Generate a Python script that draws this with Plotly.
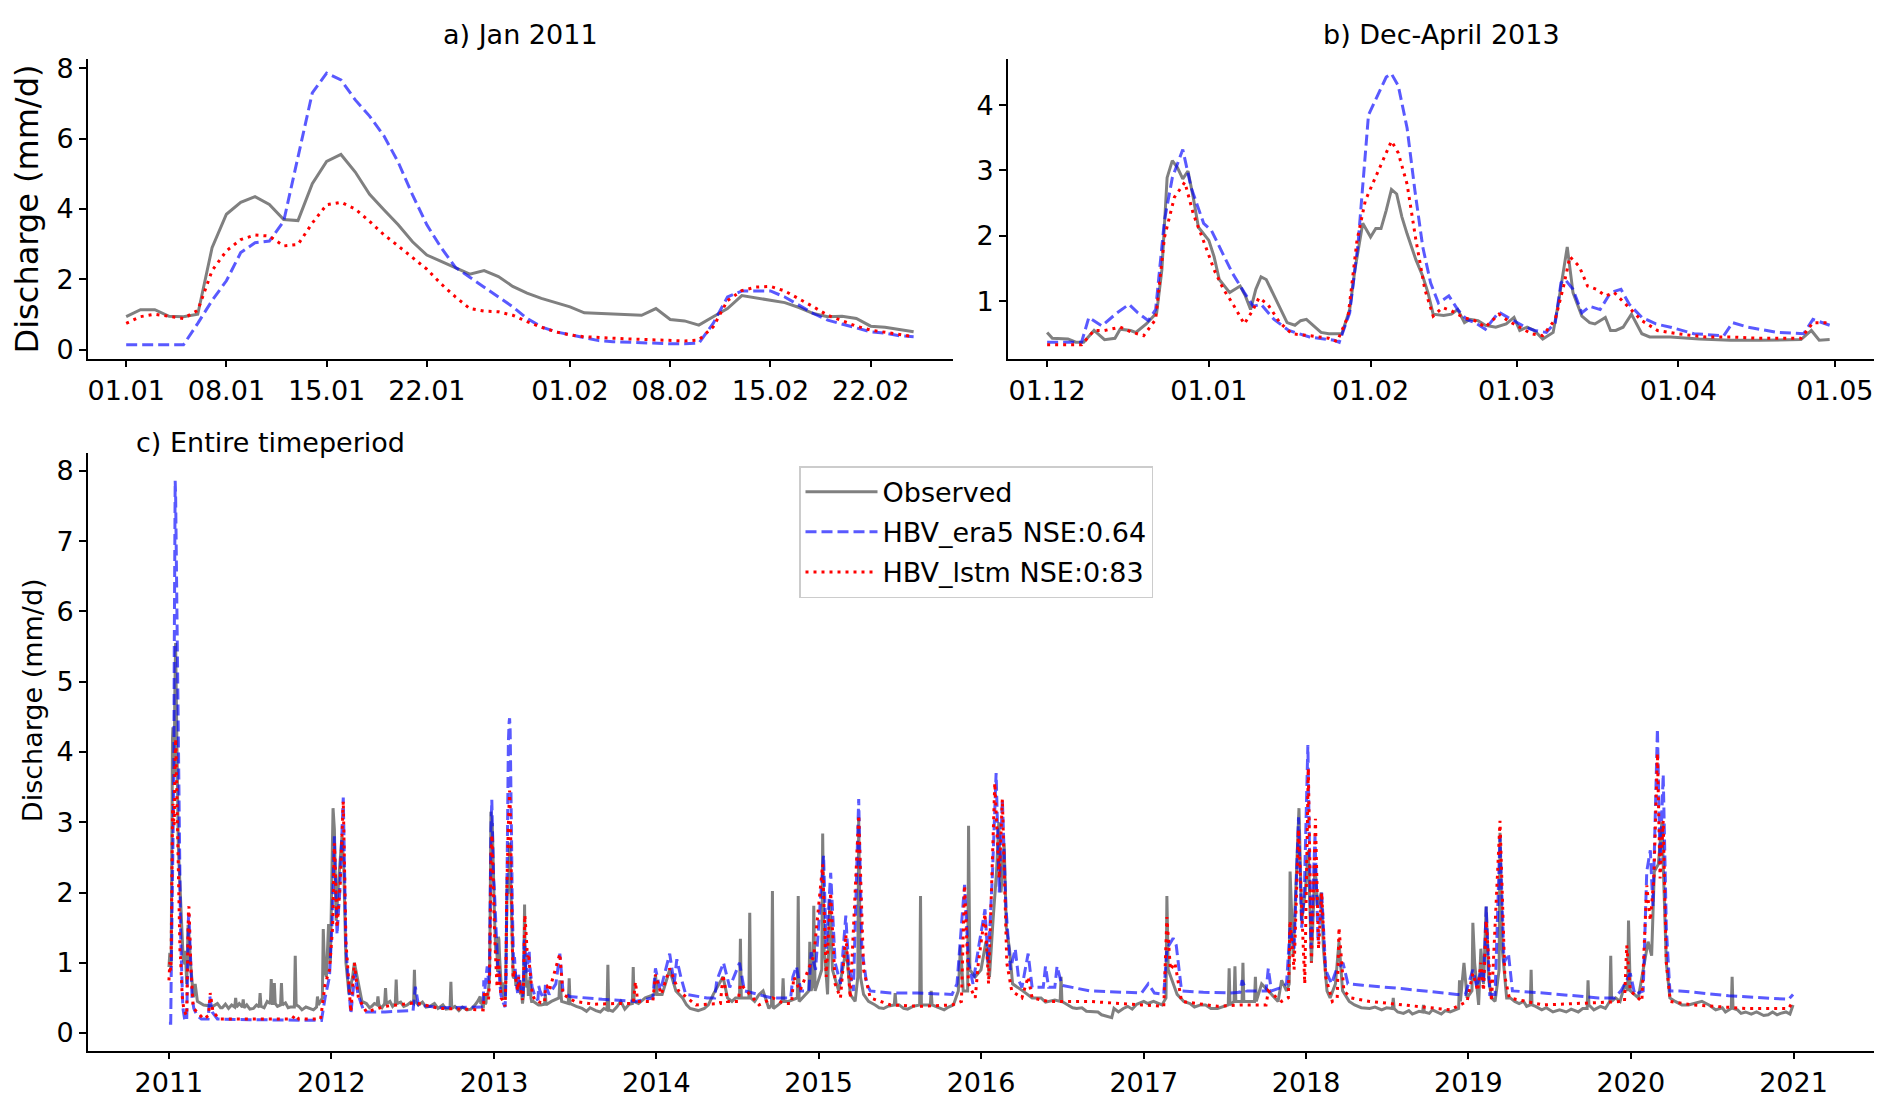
import pandas as pd
import plotly.graph_objects as go

# ---- panel a: daily values 01.01.2011 - 25.02.2011 ----
a_start = "2011-01-01"
obs_a = [0.94, 1.14, 1.14, 0.95, 0.94, 1.01, 2.9, 3.85, 4.19, 4.35,
         4.13, 3.7, 3.67, 4.72, 5.35, 5.55, 5.05, 4.42, 3.98, 3.55,
         3.07, 2.69, 2.51, 2.34, 2.15, 2.25, 2.08, 1.8, 1.61, 1.46,
         1.33, 1.22, 1.05, 1.03, 1.02, 1.0, 0.98, 1.17, 0.86, 0.82,
         0.7, 0.94, 1.17, 1.54, 1.48, 1.4, 1.34, 1.2, 1.03, 0.94,
         0.95, 0.89, 0.67, 0.64, 0.58, 0.51]
era5_a = [0.14, 0.14, 0.14, 0.14, 0.14, 0.75, 1.4, 1.96, 2.76, 3.04,
          3.09, 3.65, 5.5, 7.3, 7.86, 7.67, 7.1, 6.64, 6.08, 5.33,
          4.4, 3.55, 2.9, 2.34, 2.06, 1.78, 1.5, 1.22, 0.89, 0.65,
          0.51, 0.42, 0.33, 0.26, 0.23, 0.21, 0.19, 0.19, 0.17, 0.17,
          0.19, 0.75, 1.5, 1.67, 1.68, 1.67, 1.5, 1.26, 1.03, 0.84,
          0.73, 0.61, 0.51, 0.47, 0.4, 0.37]
lstm_a = [0.75, 0.94, 1.01, 0.94, 0.89, 1.12, 2.25, 2.81, 3.13, 3.26,
          3.23, 2.95, 2.99, 3.6, 4.12, 4.19, 4.0, 3.65, 3.27, 2.95,
          2.62, 2.29, 1.87, 1.5, 1.17, 1.1, 1.08, 0.98, 0.8, 0.64,
          0.51, 0.42, 0.37, 0.36, 0.33, 0.31, 0.3, 0.28, 0.26, 0.25,
          0.28, 0.65, 1.4, 1.68, 1.78, 1.8, 1.67, 1.45, 1.22, 0.98,
          0.82, 0.67, 0.56, 0.49, 0.42, 0.37]

# ---- panel b: days after 01.12.2012 ----
b_start = "2012-12-01"
obs_b_days = [0, 1, 4, 5.5, 7, 9, 11, 13, 14, 16,
              17, 19, 21, 22, 23, 24, 25, 26, 27, 28,
              29, 31, 32, 33, 35, 36, 37, 38, 39, 40,
              41, 42, 43.5, 44.6, 46, 47.5, 48.6, 49.7, 51, 52.5,
              54, 56.5, 58, 59, 60.5, 62, 63, 64, 65, 66,
              67, 68, 69, 70.7, 72, 73, 74, 76, 77.5, 78.7,
              80, 81, 82.6, 84, 86, 88, 89.5, 90.6, 92, 93.4,
              95, 97, 98, 99.7, 100.8, 102.5, 104, 105, 107, 108,
              109, 110.4, 112, 114, 115.5, 119.5, 125, 131, 136.5, 144.5,
              146.5, 148, 150]
obs_b = [0.52, 0.43, 0.42, 0.37, 0.37, 0.55, 0.41, 0.43, 0.57, 0.55,
         0.52, 0.65, 0.82, 1.48, 2.89, 3.15, 3.04, 2.87, 2.99, 2.59,
         2.13, 1.93, 1.68, 1.33, 1.13, 1.18, 1.23, 1.08, 0.87, 1.18,
         1.37, 1.33, 1.08, 0.92, 0.67, 0.63, 0.7, 0.72, 0.62, 0.52,
         0.5, 0.5, 0.87, 1.48, 2.19, 1.98, 2.11, 2.11, 2.39, 2.71,
         2.64, 2.29, 2.03, 1.63, 1.38, 1.13, 0.8, 0.78, 0.8, 0.87,
         0.67, 0.72, 0.7, 0.63, 0.6, 0.65, 0.75, 0.55, 0.6, 0.55,
         0.42, 0.52, 0.97, 1.83, 1.13, 0.77, 0.67, 0.65, 0.75, 0.55,
         0.55, 0.6, 0.8, 0.5, 0.45, 0.45, 0.42, 0.4, 0.4, 0.41,
         0.55, 0.4, 0.41]
era5_b_days = [0, 6.6, 8, 10.5, 13.4, 15.7, 17.4, 19.4, 20.8, 22.5,
               24, 26, 27.6, 30, 31.5, 33, 35.5, 37.8, 39.5, 41,
               43.5, 46.3, 50.3, 55, 56, 58, 59.6, 61.6, 63.3, 65,
               66, 67.3, 69, 70.5, 72, 73.5, 75, 77, 78.7, 80.4,
               82, 84, 85, 86.6, 88.3, 90, 91.7, 93.4, 95.7, 97.4,
               98.5, 99.3, 100.8, 102.5, 104, 106, 108, 110, 111.6, 114,
               116.7, 119.5, 124, 129.7, 131.4, 134.3, 140, 145, 146.8, 150]
era5_b = [0.37, 0.37, 0.75, 0.62, 0.82, 0.95, 0.82, 0.7, 0.87, 2.24,
          2.89, 3.32, 2.74, 2.19, 2.08, 1.83, 1.43, 1.13, 0.92, 0.95,
          0.72, 0.55, 0.45, 0.4, 0.37, 0.82, 1.88, 3.85, 4.15, 4.43,
          4.48, 4.3, 3.65, 2.69, 1.83, 1.28, 0.97, 1.08, 0.87, 0.72,
          0.67, 0.57, 0.67, 0.83, 0.75, 0.67, 0.6, 0.55, 0.52, 0.67,
          1.28, 1.33, 1.18, 0.82, 0.92, 0.87, 1.13, 1.18, 0.95, 0.75,
          0.65, 0.6, 0.5, 0.47, 0.67, 0.6, 0.52, 0.5, 0.72, 0.63]
lstm_b_days = [0, 6.6, 9, 11, 14, 16, 18.5, 20.8, 22.5, 24.4,
               26.4, 28, 30.4, 32, 33.8, 35.5, 37.8, 39.5, 40.6, 42.3,
               44.6, 46.9, 50.3, 54, 55.6, 57.7, 59.4, 61, 62.8, 64.5,
               66, 67.3, 69, 70.7, 72.4, 74, 75.8, 77.5, 79.8, 82,
               84, 86.6, 88.3, 90.6, 92.8, 95, 97.4, 99, 100.2, 102,
               103.6, 105.3, 107, 108.7, 111, 114, 117, 120.7, 126.3, 131,
               136.5, 144.5, 146.8, 150]
lstm_b = [0.33, 0.33, 0.55, 0.55, 0.6, 0.53, 0.47, 0.72, 1.98, 2.59,
          2.82, 2.34, 1.83, 1.48, 1.18, 0.97, 0.65, 0.87, 1.05, 0.95,
          0.67, 0.5, 0.47, 0.43, 0.38, 0.77, 1.93, 2.54, 2.87, 3.19,
          3.45, 3.27, 2.79, 1.93, 1.18, 0.77, 0.9, 0.85, 0.75, 0.7,
          0.6, 0.8, 0.7, 0.6, 0.5, 0.47, 0.72, 1.23, 1.68, 1.53,
          1.23, 1.18, 1.08, 1.13, 0.95, 0.7, 0.55, 0.5, 0.45, 0.45,
          0.43, 0.43, 0.67, 0.67]

# ---- panel c: remaining points (outside the periods of a and b) ----
obs_c_dates = [
    "2011-03-01", "2011-03-06", "2011-03-20", "2011-04-10", "2011-05-01", "2011-05-29", "2011-05-31", "2011-06-02",
    "2011-06-15", "2011-06-17", "2011-06-19", "2011-07-10", "2011-07-23", "2011-07-25", "2011-07-27", "2011-08-10",
    "2011-08-17", "2011-08-19", "2011-08-21", "2011-08-24", "2011-08-26", "2011-08-28", "2011-09-09", "2011-09-11",
    "2011-09-13", "2011-10-01", "2011-10-10", "2011-10-12", "2011-10-14", "2011-11-15", "2011-11-29", "2011-12-01",
    "2011-12-03", "2011-12-12", "2011-12-14", "2011-12-17", "2011-12-21", "2011-12-26", "2011-12-30", "2012-01-05",
    "2012-01-08", "2012-01-12", "2012-01-18", "2012-01-25", "2012-01-29", "2012-02-03", "2012-02-10", "2012-02-18",
    "2012-02-22", "2012-03-01", "2012-03-10", "2012-04-01", "2012-04-13", "2012-04-15", "2012-04-17", "2012-04-30",
    "2012-05-02", "2012-05-04", "2012-05-24", "2012-05-26", "2012-05-28", "2012-06-20", "2012-07-04", "2012-07-06",
    "2012-07-08", "2012-08-10", "2012-09-24", "2012-09-26", "2012-09-28", "2012-11-01", "2012-11-25",
    "2013-05-10", "2013-05-27", "2013-05-29", "2013-06-02", "2013-06-17", "2013-06-19", "2013-06-21", "2013-07-18",
    "2013-08-18", "2013-09-12", "2013-09-14", "2013-09-16", "2013-10-13", "2013-11-08", "2013-11-10", "2013-11-12",
    "2013-12-07", "2013-12-28", "2013-12-30", "2014-01-03", "2014-01-14", "2014-01-31", "2014-02-14", "2014-03-01",
    "2014-03-31", "2014-04-19", "2014-05-09", "2014-05-31", "2014-06-10", "2014-07-07", "2014-07-09", "2014-07-11",
    "2014-07-28", "2014-07-30", "2014-08-01", "2014-08-29", "2014-09-11", "2014-09-17", "2014-09-19", "2014-09-21",
    "2014-10-11", "2014-10-13", "2014-10-15", "2014-10-25", "2014-11-14", "2014-11-16", "2014-11-18", "2014-12-10",
    "2014-12-12", "2014-12-15", "2014-12-19", "2014-12-21", "2014-12-24", "2015-01-08", "2015-01-10", "2015-01-13",
    "2015-01-16", "2015-01-21", "2015-01-26", "2015-02-01", "2015-02-15", "2015-03-04", "2015-03-13", "2015-03-24",
    "2015-03-30", "2015-04-01", "2015-04-05", "2015-04-12", "2015-04-23", "2015-05-27", "2015-06-20", "2015-06-22",
    "2015-06-24", "2015-07-11", "2015-08-16", "2015-08-18", "2015-08-20", "2015-09-09", "2015-09-11", "2015-09-13",
    "2015-10-01", "2015-10-31", "2015-11-11", "2015-11-16", "2015-11-22", "2015-12-02", "2015-12-04", "2015-12-07",
    "2015-12-19", "2016-01-01", "2016-01-12", "2016-01-20", "2016-01-28", "2016-02-05", "2016-02-10", "2016-02-15",
    "2016-02-22", "2016-02-27", "2016-03-05", "2016-03-12", "2016-04-04", "2016-05-04", "2016-06-03", "2016-06-27",
    "2016-06-29", "2016-07-01", "2016-08-03", "2016-09-10", "2016-10-03", "2016-10-21", "2016-10-26", "2016-11-16",
    "2017-01-01", "2017-01-23", "2017-02-11", "2017-02-20", "2017-02-22", "2017-02-25", "2017-03-09", "2017-03-17",
    "2017-04-01", "2017-05-09", "2017-06-16", "2017-07-10", "2017-07-12", "2017-07-14", "2017-07-23", "2017-07-25",
    "2017-07-27", "2017-08-10", "2017-08-12", "2017-08-14", "2017-09-07", "2017-09-09", "2017-09-11", "2017-09-23",
    "2017-10-08", "2017-10-23", "2017-11-07", "2017-11-18", "2017-11-24", "2017-11-26", "2017-12-03", "2017-12-09",
    "2017-12-16", "2017-12-22", "2017-12-30", "2018-01-06", "2018-01-13", "2018-01-21", "2018-01-27", "2018-02-04",
    "2018-02-09", "2018-02-17", "2018-02-24", "2018-03-08", "2018-03-16", "2018-03-24", "2018-04-08", "2018-05-24",
    "2018-07-14", "2018-07-16", "2018-07-18", "2018-08-08", "2018-09-07", "2018-09-20", "2018-09-22", "2018-09-24",
    "2018-10-22", "2018-11-21", "2018-12-10", "2018-12-12", "2018-12-14", "2018-12-22", "2018-12-29", "2019-01-09",
    "2019-01-11", "2019-01-15", "2019-01-24", "2019-01-29", "2019-02-04", "2019-02-10", "2019-02-15", "2019-02-22",
    "2019-03-02", "2019-03-11", "2019-03-13", "2019-03-18", "2019-03-28", "2019-04-15", "2019-05-20", "2019-05-22",
    "2019-05-24", "2019-07-10", "2019-08-09", "2019-09-25", "2019-09-27", "2019-09-29", "2019-11-15", "2019-11-17",
    "2019-11-19", "2019-12-19", "2019-12-25", "2019-12-27", "2019-12-31", "2020-01-18", "2020-01-29", "2020-02-09",
    "2020-02-17", "2020-02-23", "2020-03-03", "2020-03-11", "2020-03-21", "2020-03-29", "2020-05-10", "2020-06-09",
    "2020-08-14", "2020-08-16", "2020-08-18", "2020-09-15", "2020-10-26", "2020-12-03", "2020-12-31"]
obs_c = [
    0.7, 0.45, 0.4, 0.38, 0.36, 0.37, 0.5, 0.37,
    0.37, 0.48, 0.36, 0.35, 0.37, 0.57, 0.38, 0.45,
    0.42, 0.77, 0.42, 0.42, 0.71, 0.42, 0.4, 0.71,
    0.4, 0.37, 0.37, 1.1, 0.4, 0.35, 0.37, 0.52,
    0.4, 0.5, 1.48, 0.9, 0.8, 1.55, 1.0, 3.2,
    2.9, 1.6, 2.2, 2.8, 2.4, 1.0, 0.55, 0.8,
    1.0, 0.75, 0.45, 0.38, 0.4, 0.52, 0.4, 0.42,
    0.64, 0.42, 0.42, 0.76, 0.42, 0.4, 0.42, 0.9,
    0.45, 0.38, 0.35, 0.73, 0.35, 0.33, 0.45,
    0.45, 0.5, 0.75, 0.45, 0.42, 0.78, 0.42, 0.35,
    0.32, 0.33, 0.97, 0.33, 0.45, 0.42, 0.94, 0.45,
    0.5, 0.55, 0.83, 0.55, 0.55, 0.9, 0.6, 0.5,
    0.33, 0.35, 0.55, 0.8, 0.5, 0.5, 1.34, 0.5,
    0.5, 1.71, 0.5, 0.6, 0.35, 0.4, 2.02, 0.35,
    0.45, 0.78, 0.45, 0.45, 0.5, 1.95, 0.45, 0.6,
    1.3, 0.6, 0.7, 1.81, 0.6, 0.9, 2.84, 1.2,
    1.0, 0.55, 1.9, 0.9, 0.6, 1.2, 0.55, 0.45,
    0.8, 3.07, 0.8, 0.55, 0.45, 0.35, 0.4, 0.57,
    0.4, 0.35, 0.4, 1.95, 0.4, 0.4, 0.6, 0.4,
    0.35, 0.4, 0.6, 1.25, 0.6, 0.6, 2.95, 0.9,
    0.8, 0.9, 1.3, 0.8, 1.6, 2.3, 3.0, 2.0,
    2.7, 1.5, 1.2, 0.7, 0.6, 0.5, 0.45, 0.45,
    0.8, 0.45, 0.35, 0.3, 0.25, 0.22, 0.35, 0.35,
    0.45, 0.45, 0.4, 0.5, 1.95, 0.9, 0.7, 0.55,
    0.45, 0.4, 0.35, 0.4, 0.92, 0.4, 0.45, 0.95,
    0.45, 0.45, 1.0, 0.45, 0.45, 0.8, 0.45, 0.7,
    0.6, 0.5, 0.75, 0.6, 0.7, 2.3, 1.1, 2.1,
    3.2, 1.6, 2.0, 2.6, 1.0, 2.4, 1.8, 2.0,
    1.2, 0.6, 0.5, 0.7, 1.3, 0.6, 0.45, 0.35,
    0.35, 0.5, 0.35, 0.28, 0.3, 0.3, 0.4, 0.3,
    0.3, 0.3, 0.35, 0.75, 0.45, 1.0, 0.5, 0.6,
    1.57, 1.0, 0.4, 1.2, 0.7, 1.8, 0.8, 0.5,
    0.45, 0.9, 2.85, 1.2, 0.5, 0.45, 0.4, 0.9,
    0.4, 0.3, 0.3, 0.35, 0.75, 0.4, 0.45, 1.1,
    0.45, 0.7, 0.6, 1.6, 0.6, 0.5, 0.9, 1.3,
    1.1, 2.3, 2.4, 3.0, 1.0, 0.5, 0.4, 0.45,
    0.35, 0.8, 0.35, 0.3, 0.25, 0.28, 0.4]

# small day-to-day ups and downs of the observed low-flow band
obs_base_dates = [
    "2011-04-20", "2011-04-27", "2011-05-08", "2011-05-15", "2011-05-22", "2011-06-08", "2011-06-25", "2011-07-02",
    "2011-07-17", "2011-08-03", "2011-09-02", "2011-09-20", "2011-09-26", "2011-10-20", "2011-10-27", "2011-11-05",
    "2011-11-22", "2012-03-20", "2012-03-27", "2012-04-07", "2012-04-24", "2012-05-12", "2012-05-18", "2012-06-05",
    "2012-06-12", "2012-06-28", "2012-07-15", "2012-07-24", "2012-08-01", "2012-08-20", "2012-08-28", "2012-09-08",
    "2012-09-15", "2012-10-05", "2012-10-14", "2012-10-22", "2012-11-10", "2012-11-18", "2013-07-05", "2013-07-28",
    "2013-08-05", "2013-08-28", "2013-09-05", "2013-09-25", "2013-10-04", "2013-10-22", "2013-11-01", "2013-11-22",
    "2014-03-10", "2014-03-18", "2014-04-05", "2014-04-28", "2014-06-20", "2014-06-28", "2014-08-10", "2014-08-20",
    "2014-10-02", "2015-05-08", "2015-05-17", "2015-06-05", "2015-07-01", "2015-07-20", "2015-08-01", "2015-09-22",
    "2015-10-10", "2015-10-20", "2016-04-15", "2016-04-25", "2016-05-15", "2016-05-25", "2016-06-15", "2016-07-15",
    "2016-07-25", "2016-08-15", "2016-08-25", "2016-09-20", "2016-09-28", "2016-10-12", "2016-11-05", "2016-11-26",
    "2016-12-06", "2016-12-16", "2017-01-10", "2017-02-01", "2017-04-15", "2017-04-25", "2017-05-20", "2017-06-01",
    "2017-06-28", "2017-10-15", "2017-10-30", "2018-04-20", "2018-05-05", "2018-06-05", "2018-06-20", "2018-07-01",
    "2018-07-26", "2018-08-20", "2018-08-28", "2018-09-12", "2018-10-05", "2018-10-12", "2018-11-01", "2018-11-10",
    "2019-04-05", "2019-04-25", "2019-05-05", "2019-05-12", "2019-06-01", "2019-06-15", "2019-06-25", "2019-07-25",
    "2019-08-20", "2019-09-05", "2019-09-15", "2019-10-10", "2019-10-25", "2019-11-05", "2019-11-28", "2019-12-08",
    "2020-04-10", "2020-04-25", "2020-05-25", "2020-06-25", "2020-07-10", "2020-07-25", "2020-08-01", "2020-08-28",
    "2020-09-05", "2020-09-28", "2020-10-10", "2020-11-05", "2020-11-15", "2020-11-25", "2020-12-15", "2020-12-24"]
obs_base = [
    0.42, 0.36, 0.41, 0.35, 0.4, 0.42, 0.4, 0.34,
    0.4, 0.36, 0.38, 0.43, 0.36, 0.38, 0.33, 0.37,
    0.33, 0.42, 0.36, 0.42, 0.36, 0.45, 0.38, 0.44,
    0.38, 0.44, 0.4, 0.44, 0.37, 0.42, 0.35, 0.4,
    0.34, 0.38, 0.32, 0.37, 0.34, 0.39, 0.38, 0.31,
    0.36, 0.3, 0.35, 0.31, 0.37, 0.34, 0.41, 0.42,
    0.4, 0.35, 0.32, 0.4, 0.45, 0.5, 0.45, 0.55,
    0.4, 0.4, 0.36, 0.38, 0.4, 0.34, 0.38, 0.38,
    0.33, 0.37, 0.55, 0.5, 0.5, 0.44, 0.47, 0.4,
    0.36, 0.36, 0.31, 0.3, 0.26, 0.24, 0.3, 0.38,
    0.34, 0.41, 0.42, 0.43, 0.42, 0.37, 0.4, 0.35,
    0.38, 0.55, 0.45, 0.4, 0.36, 0.37, 0.33, 0.36,
    0.3, 0.32, 0.27, 0.31, 0.28, 0.33, 0.27, 0.32,
    0.5, 0.42, 0.45, 0.38, 0.38, 0.33, 0.36, 0.33,
    0.34, 0.3, 0.35, 0.33, 0.38, 0.35, 0.5, 0.45,
    0.45, 0.4, 0.42, 0.4, 0.33, 0.36, 0.3, 0.33,
    0.28, 0.27, 0.3, 0.26, 0.3, 0.26, 0.3, 0.27]

era5_c_dates = [
    "2011-02-26", "2011-03-05", "2011-03-15", "2011-03-30", "2011-04-03", "2011-04-08", "2011-04-20", "2011-07-01",
    "2011-12-10", "2011-12-18", "2011-12-28", "2012-01-03", "2012-01-08", "2012-01-14", "2012-01-20", "2012-01-28",
    "2012-02-03", "2012-02-14", "2012-02-23", "2012-03-01", "2012-03-15", "2012-05-01", "2012-07-03", "2012-07-08",
    "2012-07-15", "2012-09-01", "2012-11-25",
    "2013-05-05", "2013-05-20", "2013-05-29", "2013-06-05", "2013-06-20", "2013-09-01", "2013-11-15", "2013-12-24",
    "2013-12-30", "2014-01-10", "2014-01-31", "2014-02-10", "2014-02-16", "2014-02-25", "2014-03-08", "2014-04-25",
    "2014-05-12", "2014-05-17", "2014-06-01", "2014-06-15", "2014-07-07", "2014-07-18", "2014-08-18", "2014-09-17",
    "2014-10-30", "2014-11-04", "2014-11-12", "2014-11-22", "2014-12-10", "2014-12-15", "2014-12-25", "2015-01-12",
    "2015-01-18", "2015-01-28", "2015-02-07", "2015-02-19", "2015-03-03", "2015-03-09", "2015-03-20", "2015-04-01",
    "2015-04-08", "2015-04-19", "2015-04-27", "2015-06-12", "2015-08-11", "2015-10-28", "2015-11-08", "2015-11-25",
    "2015-12-04", "2015-12-14", "2015-12-26", "2016-01-10", "2016-01-17", "2016-01-27", "2016-02-04", "2016-02-11",
    "2016-02-18", "2016-02-26", "2016-03-07", "2016-03-18", "2016-03-26", "2016-04-02", "2016-04-16", "2016-04-25",
    "2016-05-20", "2016-05-25", "2016-06-01", "2016-06-15", "2016-06-20", "2016-07-01", "2016-09-01", "2016-12-27",
    "2017-01-11", "2017-01-25", "2017-02-15", "2017-02-22", "2017-03-08", "2017-03-15", "2017-03-27", "2017-05-15",
    "2017-07-15", "2017-08-05", "2017-08-10", "2017-08-20", "2017-10-03", "2017-10-08", "2017-10-15", "2017-11-07",
    "2017-11-18", "2017-11-26", "2017-12-05", "2017-12-15", "2017-12-22", "2017-12-28", "2018-01-05", "2018-01-12",
    "2018-01-21", "2018-01-28", "2018-02-05", "2018-02-14", "2018-02-27", "2018-03-10", "2018-03-25", "2018-04-05",
    "2018-05-08", "2018-08-08", "2018-12-06", "2018-12-25", "2019-01-11", "2019-01-20", "2019-01-29", "2019-02-04",
    "2019-02-10", "2019-02-18", "2019-03-02", "2019-03-13", "2019-03-22", "2019-04-01", "2019-04-10", "2019-06-18",
    "2019-10-20", "2019-11-25", "2019-12-10", "2019-12-31", "2020-01-10", "2020-01-29", "2020-02-06", "2020-02-14",
    "2020-02-20", "2020-03-01", "2020-03-07", "2020-03-14", "2020-03-21", "2020-03-29", "2020-04-20", "2020-08-08",
    "2020-12-21", "2020-12-31"]
era5_c = [
    0.35, 0.25, 0.2, 0.2, 0.52, 0.3, 0.2, 0.19,
    0.18, 0.5, 0.8, 1.6, 2.8, 1.4, 2.0, 3.35,
    1.2, 0.27, 0.85, 0.55, 0.3, 0.3, 0.32, 0.66,
    0.4, 0.36, 0.37,
    0.55, 0.7, 1.13, 0.6, 0.52, 0.48, 0.45, 0.5,
    0.92, 0.6, 1.13, 0.7, 1.05, 0.8, 0.55, 0.5,
    0.5, 0.75, 1.0, 0.65, 1.0, 0.6, 0.55, 0.5,
    0.5, 0.8, 0.95, 0.6, 0.6, 1.15, 0.9, 2.53,
    1.2, 2.28, 1.0, 0.7, 1.67, 1.0, 0.6, 3.33,
    1.2, 0.7, 0.6, 0.57, 0.57, 0.55, 0.7, 2.11,
    1.0, 0.7, 1.2, 1.76, 1.0, 2.3, 3.7, 2.0,
    3.33, 1.8, 0.9, 1.2, 0.75, 0.65, 1.13, 0.65,
    0.65, 0.95, 0.65, 0.65, 0.95, 0.68, 0.6, 0.57,
    0.7, 0.57, 0.55, 1.2, 1.35, 1.25, 0.6, 0.58,
    0.57, 0.58, 0.75, 0.6, 0.6, 0.92, 0.6, 0.65,
    0.7, 1.5, 1.2, 3.07, 1.5, 2.0, 4.1, 1.2,
    2.8, 1.3, 2.0, 0.9, 0.7, 0.9, 1.0, 0.7,
    0.68, 0.63, 0.55, 0.55, 0.9, 0.65, 0.9, 0.7,
    1.8, 0.55, 0.55, 2.8, 1.0, 1.13, 0.6, 0.57,
    0.5, 0.5, 0.6, 0.85, 0.55, 0.6, 2.3, 2.6,
    1.8, 4.33, 2.4, 3.68, 1.5, 0.6, 0.6, 0.53,
    0.48, 0.55]

lstm_c_dates = [
    "2011-02-26", "2011-03-05", "2011-03-20", "2011-03-31", "2011-04-04", "2011-04-10", "2011-04-25", "2011-10-05",
    "2011-10-12", "2011-10-20", "2011-12-08", "2011-12-18", "2011-12-28", "2012-01-04", "2012-01-08", "2012-01-14",
    "2012-01-21", "2012-01-28", "2012-02-03", "2012-02-14", "2012-02-22", "2012-03-02", "2012-03-20", "2012-05-01",
    "2012-07-08", "2012-09-01", "2012-11-25",
    "2013-05-05", "2013-05-29", "2013-06-05", "2013-07-01", "2013-08-15", "2013-10-01", "2013-11-10", "2013-11-15",
    "2013-11-20", "2013-12-24", "2013-12-30", "2014-01-12", "2014-01-31", "2014-02-20", "2014-03-31", "2014-05-25",
    "2014-05-31", "2014-06-10", "2014-07-04", "2014-07-09", "2014-08-20", "2014-09-20", "2014-10-15", "2014-11-01",
    "2014-11-06", "2014-11-20", "2014-12-21", "2015-01-10", "2015-01-18", "2015-01-28", "2015-02-07", "2015-02-19",
    "2015-03-03", "2015-03-13", "2015-04-01", "2015-04-12", "2015-04-27", "2015-06-12", "2015-08-18", "2015-10-28",
    "2015-11-18", "2015-11-25", "2015-12-04", "2015-12-19", "2015-12-26", "2016-01-10", "2016-01-18", "2016-02-01",
    "2016-02-11", "2016-02-18", "2016-02-28", "2016-03-10", "2016-04-02", "2016-04-16", "2016-04-25", "2016-06-01",
    "2016-09-01", "2016-12-27", "2017-02-15", "2017-02-22", "2017-03-02", "2017-03-12", "2017-03-27", "2017-06-16",
    "2017-08-10", "2017-10-03", "2017-10-08", "2017-11-07", "2017-11-22", "2017-11-26", "2017-12-05", "2017-12-15",
    "2017-12-26", "2017-12-29", "2018-01-06", "2018-01-13", "2018-01-22", "2018-01-29", "2018-02-05", "2018-02-14",
    "2018-03-01", "2018-03-12", "2018-03-16", "2018-03-27", "2018-04-12", "2018-05-24", "2018-08-08", "2018-11-21",
    "2018-12-29", "2019-01-11", "2019-01-22", "2019-01-29", "2019-02-04", "2019-02-10", "2019-02-22", "2019-03-13",
    "2019-03-24", "2019-04-03", "2019-06-18", "2019-11-17", "2019-12-18", "2019-12-23", "2019-12-31", "2020-01-26",
    "2020-02-06", "2020-02-14", "2020-02-22", "2020-03-01", "2020-03-07", "2020-03-14", "2020-03-21", "2020-03-30",
    "2020-05-20", "2020-09-15", "2020-12-21", "2020-12-31"]
lstm_c = [
    0.35, 0.3, 0.2, 0.25, 0.57, 0.3, 0.2, 0.2,
    0.26, 0.2, 0.2, 0.69, 0.9, 1.5, 2.7, 1.5,
    2.1, 3.3, 1.3, 0.3, 1.0, 0.5, 0.3, 0.38,
    0.43, 0.35, 0.33,
    0.6, 1.13, 0.55, 0.45, 0.41, 0.42, 0.42, 0.73,
    0.45, 0.45, 0.83, 0.55, 0.92, 0.6, 0.4, 0.42,
    0.83, 0.45, 0.45, 0.7, 0.4, 0.5, 0.42, 0.42,
    0.8, 0.6, 1.1, 2.4, 0.8, 2.0, 0.7, 0.5,
    1.4, 0.5, 3.1, 0.9, 0.5, 0.4, 0.38, 0.4,
    0.45, 2.1, 0.7, 0.5, 1.0, 1.7, 0.7, 3.56,
    2.2, 3.33, 1.0, 0.6, 0.5, 0.8, 0.5, 0.45,
    0.45, 0.4, 0.38, 1.65, 0.9, 1.0, 0.45, 0.38,
    0.4, 0.4, 0.6, 0.45, 0.5, 1.6, 0.9, 2.9,
    1.0, 0.7, 3.77, 1.0, 3.05, 1.2, 2.0, 0.8,
    0.45, 0.5, 1.5, 0.6, 0.5, 0.45, 0.4, 0.33,
    0.45, 0.85, 0.6, 1.0, 0.6, 1.6, 0.45, 3.02,
    0.8, 0.5, 0.4, 0.45, 0.45, 1.25, 0.6, 0.45,
    2.1, 1.6, 2.2, 3.98, 2.2, 3.02, 1.0, 0.45,
    0.4, 0.35, 0.35, 0.45]

names = ["Observed", "HBV_era5 NSE:0.64", "HBV_lstm NSE:0:83"]
a_ticks = ["2011-01-01", "2011-01-08", "2011-01-15", "2011-01-22",
           "2011-02-01", "2011-02-08", "2011-02-15", "2011-02-22"]
b_ticks = ["2012-12-01", "2013-01-01", "2013-02-01", "2013-03-01",
           "2013-04-01", "2013-05-01"]
c_years = [2011, 2012, 2013, 2014, 2015, 2016, 2017, 2018, 2019, 2020, 2021]

for d, v in [(obs_b_days, obs_b), (era5_b_days, era5_b), (lstm_b_days, lstm_b),
             (obs_c_dates, obs_c), (obs_base_dates, obs_base),
             (era5_c_dates, era5_c), (lstm_c_dates, lstm_c)]:
    assert len(d) == len(v), (len(d), len(v))

a_dates = pd.date_range(a_start, periods=len(obs_a), freq="D")


def b_dates(days):
    return pd.Timestamp(b_start) + pd.to_timedelta(days, unit="D")


def whole_period(va, bd, vb, *more):
    parts = [pd.Series(va, index=a_dates), pd.Series(vb, index=b_dates(bd))]
    for cd, vc in zip(more[::2], more[1::2]):
        parts.append(pd.Series(vc, index=pd.to_datetime(cd)))
    return pd.concat(parts).sort_index()


# page has an 8px body margin, so the figure is a bit smaller than the window
W, H, OFF = 1876, 1097, 8


def px(x):
    return (x - OFF) / W


def py(y):
    return 1 - (y - OFF) / H


styles = [dict(color="grey", width=3),
          dict(color="rgba(0,0,255,0.65)", width=3, dash="11px,5px"),
          dict(color="red", width=3, dash="3px,5px")]

fig = go.Figure()

# a) Jan 2011
for vals, st in zip([obs_a, era5_a, lstm_a], styles):
    fig.add_trace(go.Scatter(x=a_dates, y=vals, mode="lines", line=st,
                             showlegend=False, xaxis="x", yaxis="y"))

# b) Dec-April 2013
for days, vals, st in zip([obs_b_days, era5_b_days, lstm_b_days],
                          [obs_b, era5_b, lstm_b], styles):
    fig.add_trace(go.Scatter(x=b_dates(days), y=vals, mode="lines", line=st,
                             showlegend=False, xaxis="x2", yaxis="y2"))

# c) entire period
series_c = [whole_period(obs_a, obs_b_days, obs_b, obs_c_dates, obs_c,
                         obs_base_dates, obs_base),
            whole_period(era5_a, era5_b_days, era5_b, era5_c_dates, era5_c),
            whole_period(lstm_a, lstm_b_days, lstm_b, lstm_c_dates, lstm_c)]
for i, (s, name, st) in enumerate(zip(series_c, names, styles)):
    fig.add_trace(go.Scatter(x=s.index, y=s.values, mode="lines", line=st,
                             name=name, legendgroup=f"g{i}",
                             xaxis="x3", yaxis="y3"))

ax = dict(showline=True, linecolor="black", linewidth=1.7, ticks="outside",
          ticklen=7, tickwidth=1.7, tickcolor="black", showgrid=False,
          zeroline=False, tickfont=dict(size=27))
top = [py(356), py(53)]

fig.update_layout(
    width=W, height=H,
    margin=dict(l=0, r=0, t=0, b=0),
    paper_bgcolor="white", plot_bgcolor="white",
    font=dict(family="DejaVu Sans", size=27, color="black"),
    xaxis=dict(ax, domain=[px(88), px(953)], anchor="y", type="date",
               range=["2010-12-29 08:00", "2011-02-27 18:00"],
               tickvals=a_ticks, tickformat="%d.%m"),
    yaxis=dict(ax, domain=top, anchor="x", range=[-0.25, 8.25],
               tickvals=[0, 2, 4, 6, 8],
               title=dict(text="Discharge (mm/d)", standoff=10)),
    xaxis2=dict(ax, domain=[px(1008), px(1874)], anchor="y2", type="date",
                range=["2012-11-23 12:00", "2013-05-08 12:00"],
                tickvals=b_ticks, tickformat="%d.%m"),
    yaxis2=dict(ax, domain=top, anchor="x2", range=[0.12, 4.7],
                tickvals=[1, 2, 3, 4]),
    xaxis3=dict(ax, domain=[px(88), px(1874)], anchor="y3", type="date",
                range=["2010-07-03", "2021-07-01"],
                tickvals=[f"{y}-01-01" for y in c_years],
                ticktext=[str(y) for y in c_years]),
    yaxis3=dict(ax, domain=[py(1057), py(452)], anchor="x3",
                range=[-0.25, 8.25], dtick=1),
    legend=dict(x=px(799), y=py(465), xanchor="left", yanchor="top",
                bgcolor="white", bordercolor="#cccccc", borderwidth=1.5,
                font=dict(size=27), itemwidth=72, tracegroupgap=2,
                traceorder="grouped"),
    annotations=[
        dict(text="a) Jan 2011", x=px(520), y=py(28), xref="paper",
             yref="paper", showarrow=False, xanchor="center", yanchor="middle"),
        dict(text="b) Dec-April 2013", x=px(1441), y=py(28), xref="paper",
             yref="paper", showarrow=False, xanchor="center", yanchor="middle"),
        dict(text="c) Entire timeperiod", x=px(134), y=py(441),
             xref="paper", yref="paper", showarrow=False, xanchor="left",
             yanchor="middle"),
        dict(text="Discharge (mm/d)", x=px(32), y=py(702), xref="paper",
             yref="paper", showarrow=False, textangle=-90,
             xanchor="center", yanchor="middle"),
    ],
)

fig.write_html("out.html")
